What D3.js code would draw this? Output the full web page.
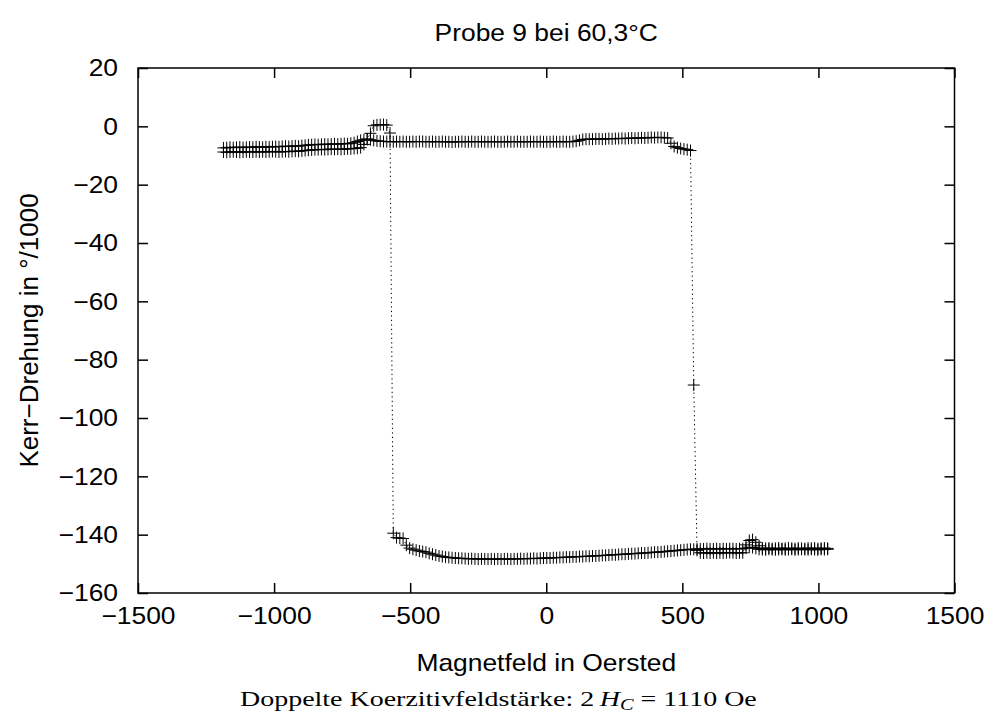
<!DOCTYPE html>
<html>
<head>
<meta charset="utf-8">
<script src="https://cdn.jsdelivr.net/npm/d3@7"></script>
<style>
  body { margin: 0; background: #fff; }
  svg { display: block; }
</style>
</head>
<body>
<svg id="chart" width="995" height="718"></svg>
<script>
// ---- text ----
const titleText = "Probe 9 bei 60,3°C";
const xLabelText = "Magnetfeld in Oersted";
const yLabelText = "Kerr\u2212Drehung in °/1000";

// ---- axis ticks ----
const xTicks = [-1500, -1000, -500, 0, 500, 1000, 1500];
const yTicks = [20, 0, -20, -40, -60, -80, -100, -120, -140, -160];

// ---- measurement: applied field (Oe), ascending ----
const field = [
  -1186,-1174,-1162,-1150,-1138,-1126,-1114,-1102,-1090,-1078,
  -1066,-1054,-1042,-1030,-1018,-1006,-994,-982,-970,-958,
  -946,-934,-922,-910,-898,-886,-874,-862,-850,-838,
  -826,-814,-802,-790,-778,-766,-754,-742,-730,-718,
  -706,-694,-682,-670,-658,-646,-634,-622,-610,-598,
  -586,-574,-562,-550,-538,-526,-514,-502,-490,-478,
  -466,-454,-442,-430,-418,-406,-394,-382,-370,-358,
  -346,-334,-322,-310,-298,-286,-274,-262,-250,-238,
  -226,-214,-202,-190,-178,-166,-154,-142,-130,-118,
  -106,-94,-82,-70,-58,-46,-34,-22,-10,2,
  14,26,38,50,62,74,86,98,110,122,
  134,146,158,170,182,194,206,218,230,242,
  254,266,278,290,302,314,326,338,350,362,
  374,386,398,410,422,434,446,458,470,482,
  494,506,518,530,542,554,566,578,590,602,
  614,626,638,650,662,674,686,698,710,722,
  734,746,758,770,782,794,806,818,830,842,
  854,866,878,890,902,914,926,938,950,962,
  974,986,998,1010,1022,1034
];

// Kerr rotation (°/1000) on the down sweep (field decreasing), listed in ascending field order
const kerrDown = [
  -8.8,-8.9,-8.8,-8.7,-8.8,-8.9,-8.8,-8.7,-8.8,-8.8,
  -8.7,-8.8,-8.7,-8.8,-8.7,-8.6,-8.7,-8.8,-8.7,-8.6,
  -8.7,-8.6,-8.5,-8.6,-8.4,-8.3,-8.2,-8.1,-8.0,-8.0,
  -7.9,-8.0,-7.9,-7.8,-7.9,-7.8,-7.9,-7.8,-7.7,-7.7,
  -7.6,-7.5,-7.3,-6.2,-4.3,-2.4,0.2,0.5,0.6,0.6,
  0.4,-2.3,-139.5,-141.0,-141.2,-141.3,-143.6,-144.6,-145.0,-145.3,
  -145.6,-145.8,-146.0,-146.4,-146.7,-147.0,-147.3,-147.5,-147.7,-147.8,
  -147.9,-148.0,-148.1,-148.1,-148.2,-148.3,-148.2,-148.3,-148.4,-148.3,
  -148.3,-148.4,-148.3,-148.4,-148.3,-148.4,-148.3,-148.3,-148.4,-148.3,
  -148.3,-148.2,-148.3,-148.2,-148.2,-148.1,-148.2,-148.1,-148.0,-148.0,
  -148.0,-147.9,-147.9,-147.8,-147.8,-147.7,-147.7,-147.6,-147.6,-147.5,
  -147.5,-147.4,-147.4,-147.3,-147.3,-147.2,-147.1,-147.1,-147.0,-146.9,
  -146.9,-146.8,-146.7,-146.7,-146.6,-146.5,-146.5,-146.4,-146.3,-146.3,
  -146.2,-146.1,-146.0,-146.0,-145.9,-145.8,-145.7,-145.6,-145.5,-145.4,
  -145.3,-145.2,-145.1,-145.0,-145.0,-144.9,-144.9,-144.9,-144.8,-144.9,
  -144.9,-144.8,-144.9,-144.8,-144.9,-144.8,-144.8,-144.9,-144.8,-144.8,
  -144.6,-144.3,-144.4,-144.7,-145.0,-145.1,-145.2,-145.0,-145.1,-145.2,
  -145.1,-145.0,-145.2,-145.1,-145.0,-145.2,-145.1,-145.0,-145.1,-145.2,
  -145.0,-145.1,-145.2,-145.0,-145.1,-145.0
];

// Kerr rotation (°/1000) on the up sweep (field increasing)
const kerrUp = [
  -7.4,-7.3,-7.2,-7.3,-7.2,-7.1,-7.3,-7.2,-7.1,-7.2,
  -7.0,-7.1,-7.2,-7.0,-7.1,-7.0,-6.9,-7.0,-6.9,-6.8,
  -6.9,-6.8,-6.7,-6.8,-6.6,-6.5,-6.4,-6.3,-6.2,-6.3,
  -6.2,-6.1,-6.2,-6.1,-6.0,-6.1,-6.0,-5.9,-6.0,-5.8,
  -5.6,-5.2,-4.8,-4.6,-4.5,-4.6,-4.8,-5.0,-5.1,-5.2,
  -5.2,-5.3,-5.3,-5.2,-5.3,-5.2,-5.3,-5.3,-5.2,-5.3,
  -5.2,-5.2,-5.3,-5.3,-5.2,-5.3,-5.3,-5.2,-5.3,-5.3,
  -5.4,-5.3,-5.3,-5.2,-5.3,-5.3,-5.2,-5.3,-5.3,-5.2,
  -5.3,-5.3,-5.3,-5.2,-5.3,-5.3,-5.3,-5.2,-5.3,-5.3,
  -5.2,-5.3,-5.3,-5.3,-5.2,-5.3,-5.3,-5.2,-5.3,-5.3,
  -5.3,-5.2,-5.3,-5.3,-5.2,-5.3,-5.3,-5.2,-5.1,-4.8,
  -4.5,-4.4,-4.4,-4.4,-4.3,-4.3,-4.4,-4.3,-4.2,-4.3,
  -4.2,-4.2,-4.1,-4.2,-4.1,-4.0,-4.1,-4.0,-3.9,-4.0,
  -3.9,-3.8,-3.9,-3.8,-3.8,-3.9,-4.0,-5.8,-6.9,-7.3,
  -7.6,-7.8,-8.0,-8.3,-88.7,-145.4,-146.2,-146.3,-146.2,-146.3,
  -146.2,-146.3,-146.2,-146.3,-146.2,-146.1,-146.2,-146.3,-146.2,-146.2,
  -143.5,-142.0,-141.7,-142.6,-143.8,-144.6,-144.7,-144.6,-144.8,-144.7,
  -144.6,-144.8,-144.7,-144.6,-144.7,-144.8,-144.6,-144.7,-144.8,-144.6,
  -144.7,-144.6,-144.8,-144.7,-144.6,-144.7
];

// ---- layout ----
const SANS = "'Liberation Sans', Arial, Helvetica, sans-serif";
const SERIF = "'Liberation Serif', 'Times New Roman', serif";
const FS = 24;      // sans font size
const SX = 1.1;     // horizontal widening of the sans lettering
const plotL = 138, plotR = 954.5, plotT = 68, plotB = 593;

const svg = d3.select("#chart");
svg.append("rect").attr("width", 995).attr("height", 718).attr("fill", "#fff");

const x = d3.scaleLinear().domain([-1500, 1500]).range([plotL, plotR]);
const y = d3.scaleLinear().domain([-160, 20]).range([plotB, plotT]);
const fmt = d3.format("d");

function styleAxis(g) {
  g.attr("font-family", SANS).attr("font-size", FS);
  g.select(".domain").remove();
  g.selectAll(".tick line").attr("stroke", "#000").attr("stroke-width", 1.5);
  g.selectAll(".tick text").attr("fill", "#000");
}

// bottom axis with labels, ticks pointing inward
const gx = svg.append("g").attr("transform", `translate(0,${plotB})`)
  .call(d3.axisBottom(x).tickValues(xTicks).tickSize(-10).tickPadding(14).tickFormat(fmt));
styleAxis(gx);
gx.selectAll(".tick text").attr("transform", `scale(${SX},1)`);

// top mirror ticks
const gt = svg.append("g").attr("transform", `translate(0,${plotT})`)
  .call(d3.axisTop(x).tickValues(xTicks).tickSize(-10).tickFormat(""));
styleAxis(gt);
gt.selectAll(".tick text").remove();

// left axis with labels
const PAD_Y = 20;
const gy = svg.append("g").attr("transform", `translate(${plotL},0)`)
  .call(d3.axisLeft(y).tickValues(yTicks).tickSize(-10).tickPadding(PAD_Y).tickFormat(fmt));
styleAxis(gy);
gy.selectAll(".tick text").attr("x", -PAD_Y / SX).attr("transform", `scale(${SX},1)`);

// right mirror ticks
const gr = svg.append("g").attr("transform", `translate(${plotR},0)`)
  .call(d3.axisRight(y).tickValues(yTicks).tickSize(-10).tickFormat(""));
styleAxis(gr);
gr.selectAll(".tick text").remove();

// frame
svg.append("rect")
  .attr("x", plotL).attr("y", plotT)
  .attr("width", plotR - plotL).attr("height", plotB - plotT)
  .attr("fill", "none").attr("stroke", "#000").attr("stroke-width", 1.5);

// ---- hysteresis loop: down sweep then up sweep ----
const downSweep = field.map((f, i) => ({ f, k: kerrDown[i] })).reverse();
const upSweep = field.map((f, i) => ({ f, k: kerrUp[i] }));
const loop = downSweep.concat(upSweep);

const line = d3.line().x(d => x(d.f)).y(d => y(d.k));
svg.append("path")
  .datum(loop)
  .attr("d", line)
  .attr("fill", "none")
  .attr("stroke", "#000")
  .attr("stroke-width", 1)
  .attr("stroke-dasharray", "1.3,3.2");

svg.append("g").selectAll("path")
  .data(loop)
  .join("path")
  .attr("d", "M-6,0H6M0,-6V6")
  .attr("transform", d => `translate(${x(d.f)},${y(d.k)})`)
  .attr("fill", "none")
  .attr("stroke", "#000")
  .attr("stroke-width", 1);

// ---- titles ----
function sansText(tx, ty, str) {
  return svg.append("text")
    .attr("transform", `translate(${tx},${ty}) scale(${SX},1)`)
    .attr("text-anchor", "middle")
    .attr("font-family", SANS)
    .attr("font-size", FS)
    .attr("fill", "#000")
    .text(str);
}
sansText((plotL + plotR) / 2, 41, titleText);
sansText((plotL + plotR) / 2, 671, xLabelText);

svg.append("text")
  .attr("transform", `translate(38,${(plotT + plotB) / 2}) rotate(-90)`)
  .attr("text-anchor", "middle")
  .attr("font-family", SANS)
  .attr("font-size", 26)
  .attr("fill", "#000")
  .text(yLabelText);

// caption below the plot
const cap = svg.append("text")
  .attr("font-family", SERIF)
  .attr("font-size", 22)
  .attr("fill", "#000");
cap.append("tspan").text("Doppelte Koerzitivfeldstärke: 2\u2009");
cap.append("tspan").attr("font-style", "italic").text("H");
cap.append("tspan").attr("font-style", "italic").attr("font-size", 16).attr("dy", 4).text("C");
cap.append("tspan").attr("dy", -4).text(" = 1110 Oe");
const capW = cap.node().getComputedTextLength();
const capTarget = 517, capCx = 498.5;
cap.attr("transform", `translate(${capCx - capTarget / 2},706) scale(${capTarget / capW},1)`);
</script>
</body>
</html>
